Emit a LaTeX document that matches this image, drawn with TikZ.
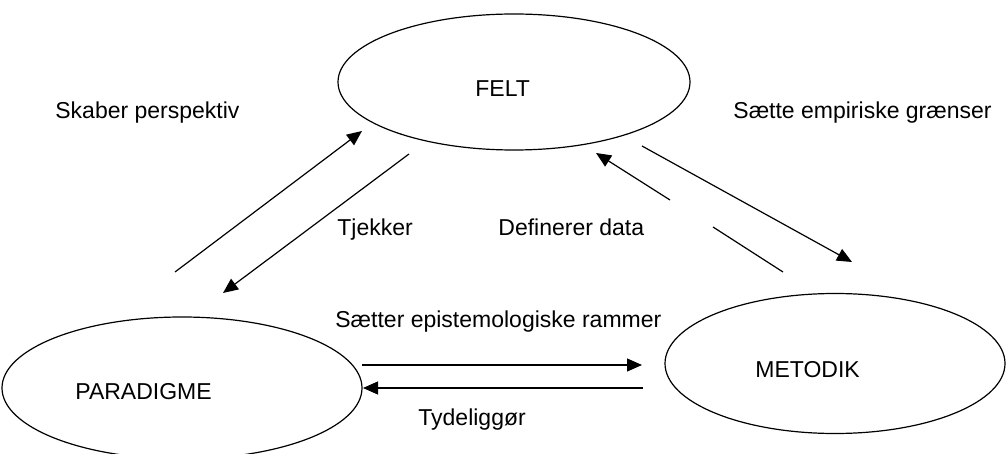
\documentclass[tikz,border=0pt]{standalone}
\usepackage{fontspec}
\setmainfont{Liberation Sans}
\usetikzlibrary{positioning,shapes.geometric,arrows.meta}

\tikzset{
  blob/.style={draw, ellipse, line width=0.6pt, inner sep=0pt},
  lbl/.style={anchor=base west, inner sep=0pt, font=\fontsize{11.5}{13}\selectfont},
  pil/.style={line width=0.6pt, -{Triangle[length=7.5pt,width=6.5pt]}},
  streg/.style={line width=0.6pt}
}

\begin{document}
\begin{tikzpicture}[x=0.5pt,y=-0.5pt]
  \useasboundingbox (0,0) rectangle (1006,454);

  % ellipser
  \node[blob, minimum width=176pt, minimum height=68pt] (felt) at (514,82) {};
  \node[blob, minimum width=180pt, minimum height=71pt] (paradigme) at (182,388) {};
  \node[blob, minimum width=170pt, minimum height=70pt] (metodik) at (835,363.5) {};

  \node[lbl] (feltlbl) at (475,97) {FELT};
  \node[lbl] (paradigmelbl) at (75,399) {PARADIGME};
  \node[lbl] (metodiklbl) at (755,377) {METODIK};

  % tekster ved pilene
  \node[lbl] (skaber) at (55,119) {Skaber perspektiv};
  \node[lbl] (saette) at (733,119) {Sætte empiriske grænser};
  \node[lbl] (tjekker) at (337,235) {Tjekker};
  \node[lbl] (definerer) at (498,235) {Definerer data};
  \node[lbl] (rammer) at (335,328) {Sætter epistemologiske rammer};
  \node[lbl] (tydelig) at (418,425) {Tydeliggør};

  % endepunkter
  \foreach \n/\x/\y in {sp1/175/272, sp2/362/131, tj1/409/154, tj2/223/293,
                        eg1/642/146, eg2/852/262, dd1/783/272, dd2/713/227,
                        dd3/670/200, dd4/596/153, ep1/362/365, ep2/642/365,
                        ty1/643/388, ty2/363/388}{
    \coordinate (\n) at (\x,\y);
  }

  \foreach \a/\b in {sp1/sp2, tj1/tj2, eg1/eg2, dd3/dd4, ep1/ep2, ty1/ty2}{
    \draw[pil] (\a) -- (\b);
  }
  \draw[streg] (dd1) -- (dd2);
\end{tikzpicture}
\end{document}
